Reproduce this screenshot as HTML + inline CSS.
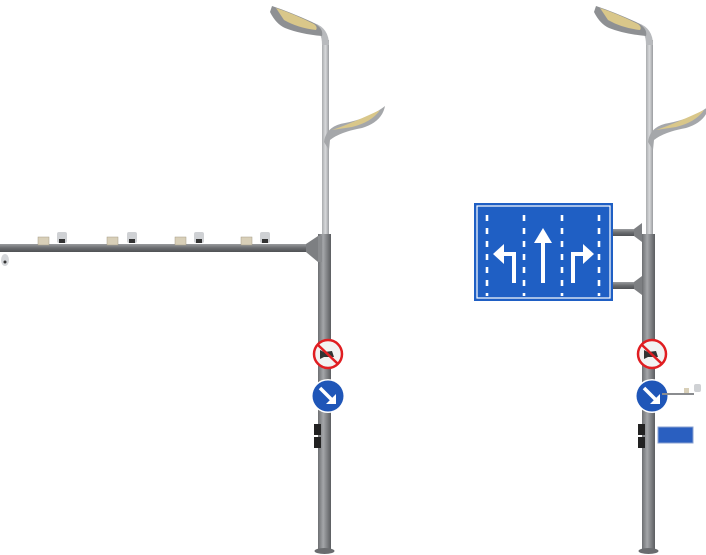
<!DOCTYPE html>
<html><head><style>html,body{margin:0;padding:0;background:#fff;}svg{display:block}</style></head>
<body>
<svg width="706" height="555" viewBox="0 0 706 555" xmlns="http://www.w3.org/2000/svg">
<defs>
<linearGradient id="pg" x1="0" x2="1"><stop offset="0" stop-color="#6d6f72"/><stop offset="0.4" stop-color="#a4a6a9"/><stop offset="1" stop-color="#5b5d60"/></linearGradient>
<linearGradient id="pu" x1="0" x2="1"><stop offset="0" stop-color="#a9abae"/><stop offset="0.5" stop-color="#d8d9db"/><stop offset="1" stop-color="#9a9c9f"/></linearGradient>
<linearGradient id="ar" x1="0" y1="0" x2="0" y2="1"><stop offset="0" stop-color="#9a9c9f"/><stop offset="0.5" stop-color="#6a6c6f"/><stop offset="1" stop-color="#4f5154"/></linearGradient>
<g id="lamp">
  <rect x="322" y="40" width="7" height="200" fill="url(#pu)"/>
  <path d="M322 45 Q322 30 312 28 L300 25 L300 20 L314 23 Q329 28 329 45 Z" fill="#b8babd"/>
  <path d="M272 6 Q290 12 312 22 Q324 28 322 36 Q300 34 285 28 Q276 24 270 12 Z" fill="#8e9093"/>
  <path d="M276 8 Q294 14 314 24 Q318 27 316 30 Q298 28 284 20 Z" fill="#d9c78a"/>
  <path d="M324 142 Q326 126 345 123 Q370 118 385 106 Q382 122 362 128 Q340 132 330 140 L329 150 Z" fill="#a5a7aa"/>
  <path d="M332 130 Q350 124 380 110 Q372 122 352 127 Z" fill="#d9c78a"/>
  <rect x="318" y="234" width="13" height="318" fill="url(#pg)"/>
  <ellipse cx="324.5" cy="551" rx="10" ry="3" fill="#6a6c6f"/>
  <circle cx="328" cy="354" r="14" fill="#f2f2f2" stroke="#e01e22" stroke-width="2.5"/>
  <path d="M320 350 L324 352 L332 351 L334 357 L324 357 L320 359 Z" fill="#333"/>
  <line x1="318" y1="345" x2="338" y2="364" stroke="#e01e22" stroke-width="2.5"/>
  <circle cx="328" cy="396" r="17" fill="#fff"/>
  <circle cx="328" cy="396" r="15.5" fill="#1f56b8"/>
  <path d="M320 388 L333 401" stroke="#fff" stroke-width="3.5"/>
  <path d="M336 404 L326 404 L336 394 Z" fill="#fff"/>
  <rect x="314" y="424" width="7" height="11" fill="#222"/>
  <rect x="314" y="437" width="7" height="11" fill="#222"/>
</g>
</defs>

<use href="#lamp"/>
<rect x="0" y="244" width="318" height="8" fill="url(#ar)"/>
<path d="M306 244 L318 236 L318 262 L306 252 Z" fill="#7d7f82"/>
<rect x="318" y="236" width="4" height="26" fill="#8a8c8f"/>
<g fill="#d8cfb8" stroke="#a59c86" stroke-width="0.5">
<rect x="38" y="237" width="11" height="8"/><rect x="107" y="237" width="11" height="8"/><rect x="175" y="237" width="11" height="8"/><rect x="241" y="237" width="11" height="8"/>
</g>
<g fill="#cfd1d4">
<rect x="57" y="232" width="10" height="11" rx="2"/><rect x="127" y="232" width="10" height="11" rx="2"/><rect x="194" y="232" width="10" height="11" rx="2"/><rect x="260" y="232" width="10" height="11" rx="2"/>
</g>
<g fill="#333"><rect x="59" y="239" width="6" height="4"/><rect x="129" y="239" width="6" height="4"/><rect x="196" y="239" width="6" height="4"/><rect x="262" y="239" width="6" height="4"/></g>
<ellipse cx="5" cy="260" rx="4" ry="6" fill="#d5d7da"/><circle cx="5" cy="262" r="1.5" fill="#333"/>

<use href="#lamp" x="324"/>
<rect x="612" y="229" width="30" height="7" fill="url(#ar)"/>
<rect x="612" y="282" width="30" height="7" fill="url(#ar)"/>
<path d="M634 229 L642 223 L642 242 L634 236 Z" fill="#7d7f82"/>
<path d="M634 282 L642 276 L642 295 L634 289 Z" fill="#7d7f82"/>
<rect x="474" y="203" width="139" height="98" fill="#1f5fc4"/>
<rect x="477" y="206" width="133" height="92" fill="none" stroke="#fff" stroke-width="1.2"/>
<g stroke="#fff" stroke-width="2.6" stroke-dasharray="6 7">
<line x1="487" y1="215" x2="487" y2="296"/><line x1="524" y1="215" x2="524" y2="296"/><line x1="562" y1="215" x2="562" y2="296"/><line x1="599" y1="215" x2="599" y2="296"/>
</g>
<g fill="none" stroke="#fff" stroke-width="4">
<path d="M514 283 L514 254 L502 254"/><path d="M543 283 L543 240"/><path d="M573 283 L573 254 L585 254"/>
</g>
<g fill="#fff">
<path d="M493 254 L504 244 L504 264 Z"/><path d="M543 228 L534 243 L552 243 Z"/><path d="M594 254 L583 244 L583 264 Z"/>
</g>
<rect x="662" y="393" width="32" height="2" fill="#8a8c8f"/>
<rect x="684" y="388" width="5" height="5" fill="#d8cfb8"/>
<rect x="694" y="384" width="7" height="8" rx="2" fill="#cfd1d4"/>
<rect x="658" y="427" width="35" height="16" fill="#2a5fc0" stroke="#8aa2d0" stroke-width="1"/>
</svg>
</body></html>
